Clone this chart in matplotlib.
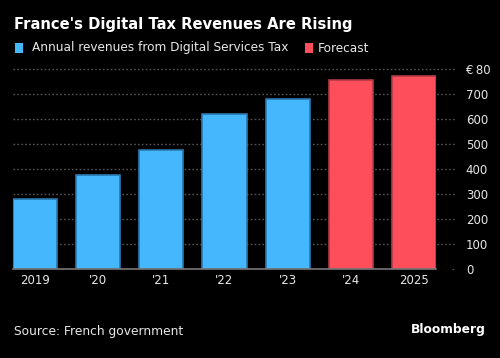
import matplotlib
matplotlib.use("Agg")
import matplotlib.pyplot as plt
from matplotlib.patches import Rectangle
from matplotlib.transforms import Bbox, TransformedBbox

years = ["2019", "'20", "'21", "'22", "'23", "'24", "2025"]
values = [278, 376, 474, 621, 680, 755, 772]
is_forecast = [False, False, False, False, False, True, True]
yticks = [0, 100, 200, 300, 400, 500, 600, 700, 800]
ytick_labels = ["0", "100", "200", "300", "400", "500", "600", "700", "€\u2009800"]

BLUE, BLUE_EDGE = "#45b7fc", "#2a78b0"
RED, RED_EDGE = "#ff4e5b", "#b03a45"
W, H = 500, 358

fig = plt.figure(figsize=(W / 100, H / 100), dpi=100, facecolor="black")
ax_left, ax_right, ax_bottom, ax_top = 13, 436, 268.7, 69
ax = fig.add_axes([ax_left / W, 1 - ax_bottom / H, (ax_right - ax_left) / W, (ax_bottom - ax_top) / H])
ax.set_facecolor("black")

bw = 44 / 63
xs = list(range(len(years)))
colors = [RED if f else BLUE for f in is_forecast]
edges = [RED_EDGE if f else BLUE_EDGE for f in is_forecast]
ax.bar(xs, values, width=bw, color=colors, edgecolor=edges, linewidth=1.2, zorder=3)
ax.set_xlim(-bw / 2, len(years) - 1 + bw / 2)
ax.set_ylim(0, 800)

# gridlines extending past the axes on the right
ext = (455 - ax_left) / (ax_right - ax_left)
for t in yticks:
    start = 0 if t > 0 else (452 - ax_left) / (ax_right - ax_left)
    ax.plot([start, ext], [t, t], transform=ax.get_yaxis_transform(), color="#555555",
            linestyle=(0, (1.2, 1.6)), linewidth=1, clip_on=False, zorder=1)

for s in ["top", "left", "right"]:
    ax.spines[s].set_visible(False)
ax.spines["bottom"].set_color("#777777")
ax.spines["bottom"].set_linewidth(1.2)
ax.spines["bottom"].set_zorder(4)

ax.set_xticks(xs)
ax.set_xticklabels(years)
ax.tick_params(axis="x", length=0, pad=4, labelsize=8.5, labelcolor="#e8e8e8")
ax.yaxis.tick_right()
ax.set_yticks(yticks)
ax.set_yticklabels(ytick_labels)
ax.tick_params(axis="y", length=0, pad=21.5, labelsize=8.5, labelcolor="#e8e8e8")
clip = TransformedBbox(Bbox([[0, 0], [491 / W, 1]]), fig.transFigure)
for lbl in ax.get_yticklabels():
    lbl.set_horizontalalignment("left")
    lbl.set_clip_box(clip)
    lbl.set_clip_on(True)

fig.text(14 / W, 1 - 24 / H, "France's Digital Tax Revenues Are Rising", color="white",
         fontsize=10.6, fontweight="bold", va="center", ha="left")

# legend
fig.patches.append(Rectangle((15 / W, 1 - 53 / H), 8 / W, 9.5 / H, transform=fig.transFigure,
                             facecolor=BLUE, edgecolor="none"))
fig.text(32 / W, 1 - 48 / H, "Annual revenues from Digital Services Tax", color="#e8e8e8",
         fontsize=8.7, va="center", ha="left")
fig.patches.append(Rectangle((305 / W, 1 - 53 / H), 8 / W, 9.5 / H, transform=fig.transFigure,
                             facecolor=RED, edgecolor="none"))
fig.text(318 / W, 1 - 48 / H, "Forecast", color="#e8e8e8", fontsize=8.7, va="center", ha="left")

fig.text(14 / W, 1 - 332 / H, "Source: French government", color="#e8e8e8",
         fontsize=8.8, va="center", ha="left")
fig.text(486 / W, 1 - 330 / H, "Bloomberg", color="white", fontsize=8.8, fontweight="bold",
         va="center", ha="right")

fig.savefig("out.png", dpi=100, facecolor="black")
